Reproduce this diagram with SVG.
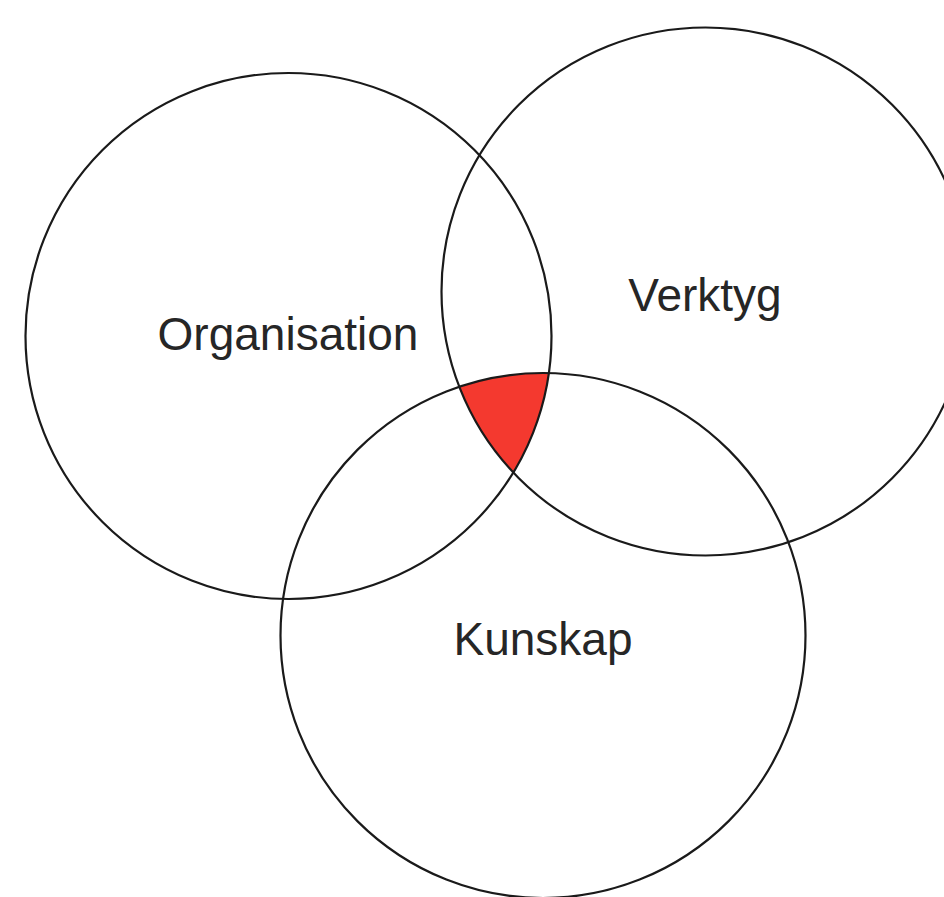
<svg xmlns="http://www.w3.org/2000/svg" width="944" height="897" viewBox="0 0 944 897">
<style>
.ring{fill:none;stroke:#1a1a1a;stroke-width:2.2}
.lbl{font-family:"Liberation Sans",Arial,sans-serif;font-size:46px;fill:#262626;text-anchor:middle}
</style>
<defs>
<clipPath id="clipC1"><circle cx="288.5" cy="336" r="263"/></clipPath>
<clipPath id="clipC2"><circle cx="705.5" cy="291.5" r="264"/></clipPath>
</defs>
<rect width="944" height="897" fill="#ffffff"/>
<g id="intersection" clip-path="url(#clipC1)">
<g clip-path="url(#clipC2)">
<circle cx="543" cy="635.5" r="262.5" fill="#f4392f"/>
</g>
</g>
<g id="organisation">
<circle class="ring" cx="288.5" cy="336" r="263"/>
<text class="lbl" x="288" y="350">Organisation</text>
</g>
<g id="verktyg">
<circle class="ring" cx="705.5" cy="291.5" r="264"/>
<text class="lbl" x="705" y="311">Verktyg</text>
</g>
<g id="kunskap">
<circle class="ring" cx="543" cy="635.5" r="262.5"/>
<text class="lbl" x="543" y="655">Kunskap</text>
</g>
<g id="connectors"></g>
</svg>
